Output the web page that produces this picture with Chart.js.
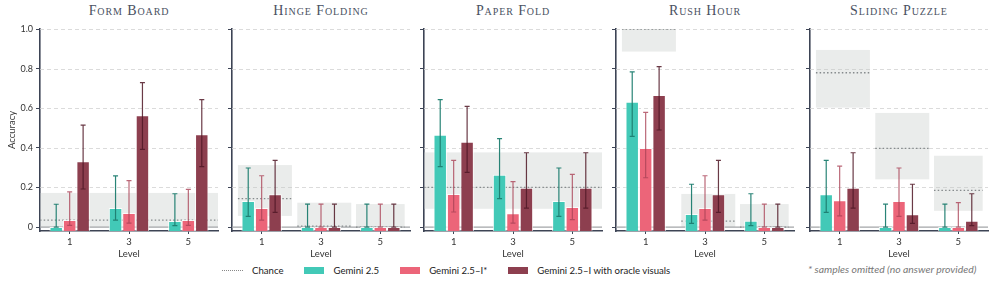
<!DOCTYPE html>
<html>
<head>
<meta charset="utf-8">
<script src="https://cdn.jsdelivr.net/npm/chart.js@4.4.1/dist/chart.umd.min.js"></script>
<style>
  body { margin: 0; background: #fff; }
  #page { position: relative; width: 996px; height: 288px; overflow: hidden; font-family: Lato, sans-serif; }
  canvas { position: absolute; top: 0; }
  .title { position: absolute; top: 3px; text-align: center; font-family: "Liberation Serif", serif; font-variant: small-caps; font-size: 14px; color: #4a5162; letter-spacing: 0.9px; }
  #legend { position: absolute; top: 265px; left: 222px; display: flex; align-items: center; font-size: 9.6px; color: #222; }
  .item { display: flex; align-items: center; margin-right: 21px; }
  .swatch { width: 20px; height: 7px; margin-right: 9px; }
  .dots { width: 21px; height: 0; border-top: 1.5px dotted #888; margin-right: 9px; }
  #note { position: absolute; top: 263px; left: 808px; font-size: 10.4px; font-style: italic; color: #777; }
</style>
</head>
<body>
<div id="page">
  <div id="legend"></div>
  <div id="note">* samples omitted (no answer provided)</div>
</div>
<script>
const levels = ["1", "3", "5"];
const tasks = ["Form Board", "Hinge Folding", "Paper Fold", "Rush Hour", "Sliding Puzzle"];
const seriesNames = ["Gemini 2.5", "Gemini 2.5–I*", "Gemini 2.5–I with oracle visuals"];

// accuracy, one row per task, one value per level
const geminiAcc = [[0.0, 0.096, 0.03], [0.131, 0, 0], [0.466, 0.264, 0.131], [0.633, 0.066, 0.032], [0.165, 0, 0]];
const geminiLow = [[0, 0.035, 0.007], [0.054, 0, 0], [0.305, 0.143, 0.054], [0.458, 0.018, 0.007], [0.074, 0, 0]];
const geminiHigh = [[0.115, 0.258, 0.168], [0.298, 0.116, 0.116], [0.643, 0.446, 0.298], [0.784, 0.216, 0.168], [0.337, 0.116, 0.116]];

const geminiIAcc = [[0.035, 0.071, 0.035], [0.096, 0, 0], [0.167, 0.069, 0.101], [0.399, 0.096, 0], [0.135, 0.131, 0]];
const geminiILow = [[0.008, 0.02, 0.008], [0.035, 0, 0], [0.076, 0.02, 0.037], [0.249, 0.035, 0], [0.056, 0.054, 0]];
const geminiIHigh = [[0.178, 0.234, 0.19], [0.259, 0.116, 0.116], [0.337, 0.229, 0.266], [0.579, 0.259, 0.116], [0.308, 0.298, 0.123]];

const oracleAcc = [[0.332, 0.564, 0.468], [0.165, 0, 0], [0.431, 0.198, 0.198], [0.667, 0.165, 0], [0.198, 0.064, 0.032]];
const oracleLow = [[0.192, 0.392, 0.305], [0.074, 0, 0], [0.276, 0.096, 0.096], [0.49, 0.074, 0], [0.096, 0.018, 0.007]];
const oracleHigh = [[0.515, 0.729, 0.643], [0.337, 0.116, 0.116], [0.609, 0.375, 0.375], [0.81, 0.337, 0.116], [0.375, 0.216, 0.168]];

const chance = [[0.035, 0.035, 0.035], [0.143, 0.005, 0], [0.2, 0.2, 0.2], [1.0, 0.03, 0], [0.779, 0.397, 0.185]];
const chanceLow = [[0, 0, 0], [0.056, 0, 0], [0.092, 0.092, 0.092], [0.886, 0, 0], [0.603, 0.241, 0.082]];
const chanceHigh = [[0.172, 0.172, 0.172], [0.313, 0.123, 0.116], [0.377, 0.377, 0.377], [1.05, 0.167, 0.116], [0.894, 0.576, 0.36]];

const seriesAcc = [geminiAcc, geminiIAcc, oracleAcc];
const seriesLow = [geminiLow, geminiILow, oracleLow];
const seriesHigh = [geminiHigh, geminiIHigh, oracleHigh];

const seriesColors = ["#42c9b7", "#ec6579", "#8d3f4f"];
const errorColors = ["rgba(30,125,112,0.95)", "rgba(170,66,86,0.8)", "rgba(80,24,38,0.85)"];

const Y_MIN = -0.02;
const panelLefts = [40, 232, 424, 616, 810];
const panelWidth = 178;
const boxSpan = [[-0.4, 0.51], [-0.4, 0.51], [-0.41, 0.41]];
const axisColor = "#3d4455";

function makeExtras(t) {
  return {
    id: "extras" + t,
    beforeDatasetsDraw(chart) {
      const { ctx, chartArea, scales: { x, y } } = chart;
      ctx.save();
      ctx.beginPath();
      ctx.rect(chartArea.left, chartArea.top, chartArea.width, chartArea.height);
      ctx.clip();

      // dashed grid
      ctx.strokeStyle = "#d2d2d2";
      ctx.lineWidth = 0.8;
      ctx.setLineDash([4, 3]);
      y.ticks.forEach((tick) => {
        if (Math.abs(tick.value) < 1e-9) return;
        const py = Math.round(y.getPixelForValue(tick.value)) + 0.5;
        ctx.beginPath();
        ctx.moveTo(chartArea.left, py);
        ctx.lineTo(chartArea.right, py);
        ctx.stroke();
      });

      // chance bands
      const catW = x.getPixelForValue(1) - x.getPixelForValue(0);
      const flat = chance[t].every((c) => c === chance[t][0]);
      const spans = levels.map((lv, j) => {
        const cx = x.getPixelForValue(j);
        return flat
          ? [chartArea.left, chartArea.right]
          : [cx + boxSpan[j][0] * catW, cx + boxSpan[j][1] * catW];
      });
      ctx.fillStyle = "rgba(196,202,200,0.36)";
      levels.forEach((lv, j) => {
        if (flat && j > 0) return;
        const top = y.getPixelForValue(chanceHigh[t][j]);
        const bot = y.getPixelForValue(chanceLow[t][j]);
        ctx.fillRect(spans[j][0], top, spans[j][1] - spans[j][0], bot - top);
      });

      // zero line
      ctx.setLineDash([]);
      ctx.strokeStyle = "#a3a6a8";
      ctx.lineWidth = 1.3;
      const y0 = y.getPixelForValue(0);
      ctx.beginPath();
      ctx.moveTo(chartArea.left, y0);
      ctx.lineTo(chartArea.right, y0);
      ctx.stroke();

      // chance lines
      ctx.strokeStyle = "#858a8c";
      ctx.lineWidth = 1.3;
      ctx.setLineDash([1.5, 2.2]);
      levels.forEach((lv, j) => {
        if (flat && j > 0) return;
        const py = y.getPixelForValue(chance[t][j]);
        ctx.beginPath();
        ctx.moveTo(spans[j][0], py);
        ctx.lineTo(spans[j][1], py);
        ctx.stroke();
      });
      ctx.restore();
    },
    afterDatasetsDraw(chart) {
      const { ctx, scales: { y } } = chart;
      ctx.save();
      ctx.lineWidth = 1.2;
      chart.data.datasets.forEach((ds, i) => {
        const meta = chart.getDatasetMeta(i);
        ctx.strokeStyle = errorColors[i];
        meta.data.forEach((bar, j) => {
          const lo = y.getPixelForValue(ds.errLow[j]);
          const hi = y.getPixelForValue(ds.errHigh[j]);
          ctx.beginPath();
          ctx.moveTo(bar.x, lo);
          ctx.lineTo(bar.x, hi);
          ctx.moveTo(bar.x - 2.5, lo);
          ctx.lineTo(bar.x + 2.5, lo);
          ctx.moveTo(bar.x - 2.5, hi);
          ctx.lineTo(bar.x + 2.5, hi);
          ctx.stroke();
        });
      });
      ctx.restore();
    },
  };
}

const page = document.getElementById("page");

tasks.forEach((task, t) => {
  const title = document.createElement("div");
  title.className = "title";
  title.style.left = panelLefts[t] + "px";
  title.style.width = panelWidth + "px";
  title.textContent = task;
  page.appendChild(title);

  const canvas = document.createElement("canvas");
  canvas.width = panelWidth + 44;
  canvas.height = 264;
  canvas.style.left = panelLefts[t] - 40 + "px";
  page.appendChild(canvas);

  new Chart(canvas, {
    type: "bar",
    data: {
      labels: levels,
      datasets: seriesNames.map((name, s) => ({
        label: name,
        data: seriesAcc[s][t],
        errLow: seriesLow[s][t],
        errHigh: seriesHigh[s][t],
        backgroundColor: seriesColors[s],
        borderColor: "rgba(255,255,255,0.85)",
        borderWidth: 1,
        base: Y_MIN,
        categoryPercentage: 0.68,
        barPercentage: 1,
      })),
    },
    options: {
      responsive: false,
      animation: false,
      layout: { padding: { top: 29, right: 4, left: 0, bottom: 0 } },
      plugins: { legend: { display: false }, tooltip: { enabled: false } },
      scales: {
        x: {
          grid: { drawOnChartArea: false, offset: false, tickLength: 3, tickColor: axisColor, tickWidth: 1 },
          border: { color: axisColor, width: 1.6 },
          ticks: { color: "#333", padding: 2, font: { family: "Lato", size: 9.5 } },
          title: { display: true, text: "Level", color: "#333", font: { family: "Lato", size: 9.5 }, padding: { top: 0, bottom: 4 } },
          afterFit: (scale) => { scale.height = 264 - 231; },
        },
        y: {
          min: Y_MIN,
          max: 1.0,
          grid: { drawOnChartArea: false, tickLength: 4, tickColor: axisColor, tickWidth: 1 },
          border: { color: axisColor, width: 1.6 },
          ticks: {
            stepSize: 0.2,
            includeBounds: false,
            display: t === 0,
            color: "#333",
            padding: 3,
            font: { family: "Lato", size: 9 },
            callback: (v) => (Math.abs(v) < 1e-9 ? "0" : v.toFixed(1)),
          },
          title: { display: t === 0, text: "Accuracy", color: "#333", font: { family: "Lato", size: 9.5 }, padding: { top: 6, bottom: 0 } },
          afterFit: (scale) => { scale.width = 40; },
        },
      },
    },
    plugins: [makeExtras(t)],
  });
});

// legend
const legend = document.getElementById("legend");
const chanceItem = document.createElement("div");
chanceItem.className = "item";
chanceItem.innerHTML = '<span class="dots"></span><span>Chance</span>';
legend.appendChild(chanceItem);
seriesNames.forEach((name, s) => {
  const item = document.createElement("div");
  item.className = "item";
  const sw = document.createElement("span");
  sw.className = "swatch";
  sw.style.background = seriesColors[s];
  const label = document.createElement("span");
  label.textContent = name;
  item.appendChild(sw);
  item.appendChild(label);
  legend.appendChild(item);
});
</script>
</body>
</html>
